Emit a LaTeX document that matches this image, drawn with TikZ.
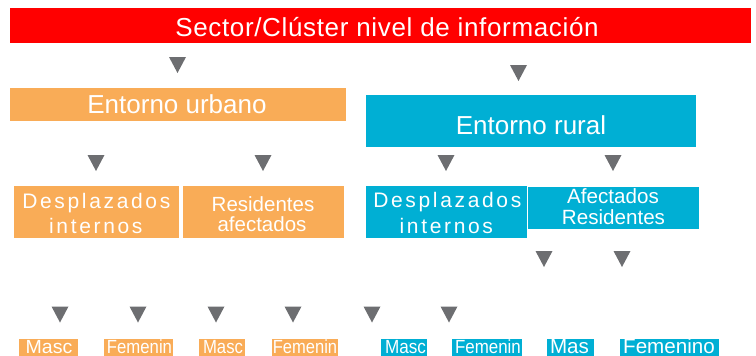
\documentclass[tikz,border=0pt]{standalone}
\usepackage{graphicx}
\usepackage{fontspec}
\setmainfont{Liberation Sans}
\definecolor{orng}{HTML}{F9AC57}
\definecolor{blu}{HTML}{00AFD4}
\definecolor{trigray}{HTML}{6D6E71}
\definecolor{redbar}{HTML}{FF0000}
\begin{document}
\begin{tikzpicture}[x=1pt,y=-1pt,
  box/.style={inner sep=0pt, outer sep=0pt, minimum width=#1},
  obox/.style={box=#1, fill=orng},
  bbox/.style={box=#1, fill=blu},
  txt/.style={inner sep=0pt, outer sep=0pt, anchor=base, text=white},
  small/.style={txt, font=\fontsize{19}{22}\selectfont},
  tri/.pic={\fill[trigray] (-8.5,-8) -- (8.5,-8) -- (0,8) -- cycle;}
]
\useasboundingbox (0,0) rectangle (756,356);
% boxes
\node[box=741pt, fill=redbar, minimum height=35pt] (sector) at (380.5,25.5) {};
\node[obox=336pt, minimum height=33pt] (urb) at (178,104.5) {};
\node[bbox=330pt, minimum height=52pt] (rur) at (531,121) {};
\node[obox=165pt, minimum height=52pt] (desU) at (96.5,212) {};
\node[obox=161pt, minimum height=52pt] (resU) at (263.5,212) {};
\node[bbox=161pt, minimum height=52pt] (desR) at (446.5,212) {};
\node[bbox=171pt, minimum height=42pt] (afeR) at (613.5,208) {};
\node[obox=59pt, minimum height=17pt] (m1) at (48.5,347.5) {};
\node[obox=69pt, minimum height=17pt] (f1) at (138.5,347.5) {};
\node[obox=46pt, minimum height=17pt] (m2) at (222,347.5) {};
\node[obox=66pt, minimum height=17pt] (f2) at (305,347.5) {};
\node[bbox=46pt, minimum height=17pt] (m3) at (404,347.5) {};
\node[bbox=70pt, minimum height=17pt] (f3) at (487,347.5) {};
\node[bbox=47pt, minimum height=17pt] (m4) at (570.5,347.5) {};
\node[bbox=99pt, minimum height=17pt] (f4) at (669.5,347.5) {};
% texts
\node[txt, font=\fontsize{26}{30}\selectfont\addfontfeature{LetterSpace=2.5}] (tSector) at (387,36.7) {Sector/Clúster nivel de información};
\node[txt, font=\fontsize{26}{30}\selectfont] (tUrb) at (177,113) {Entorno urbano};
\node[txt, font=\fontsize{26}{30}\selectfont] (tRur) at (531,134) {Entorno rural};
\node[txt, font=\fontsize{21}{25}\selectfont\addfontfeature{LetterSpace=12.7}] (tDesU1) at (96.3,208.3) {Desplazados};
\node[txt, font=\fontsize{21}{25}\selectfont\addfontfeature{LetterSpace=12.7}] (tDesU2) at (95.8,233) {internos};
\node[txt, font=\fontsize{20.5}{24}\selectfont] (tResU1) at (263,211) {Residentes};
\node[txt, font=\fontsize{20.5}{24}\selectfont] (tResU2) at (262,231) {afectados};
\node[txt, font=\fontsize{21}{25}\selectfont\addfontfeature{LetterSpace=12.7}] (tDesR1) at (447.3,207) {Desplazados};
\node[txt, font=\fontsize{21}{25}\selectfont\addfontfeature{LetterSpace=12.7}] (tDesR2) at (446.3,233) {internos};
\node[txt, font=\fontsize{20.6}{24}\selectfont] (tAfe1) at (613,203) {Afectados};
\node[txt, font=\fontsize{20.6}{24}\selectfont] (tAfe2) at (613.5,224) {Residentes};
\node[small] (tm1) at (49,353) {\scalebox{1.03}[1]{Masc}};
\node[small] (tf1) at (139.5,353) {\scalebox{0.88}[1]{Femenin}};
\node[small] (tm2) at (223,353) {\scalebox{0.88}[1]{Masc}};
\node[small] (tf2) at (305,353) {\scalebox{0.87}[1]{Femenin}};
\node[small] (tm3) at (405.5,353) {\scalebox{0.9}[1]{Masc}};
\node[small] (tf3) at (488,353) {\scalebox{0.89}[1]{Femenin}};
\node[txt, font=\fontsize{20.6}{24}\selectfont] (tm4) at (569.5,353) {Mas};
\node[txt, font=\fontsize{20.6}{24}\selectfont] (tf4) at (669,353) {Femenino};
% triangles
\pic at (177.5,65) {tri};
\pic at (518.5,73) {tri};
\foreach \x in {96,263,446,613} \pic at (\x,163) {tri};
\foreach \x in {544,622} \pic at (\x,259) {tri};
\foreach \x in {60,138,216,293,372,449} \pic at (\x,314.5) {tri};
\end{tikzpicture}
\end{document}
